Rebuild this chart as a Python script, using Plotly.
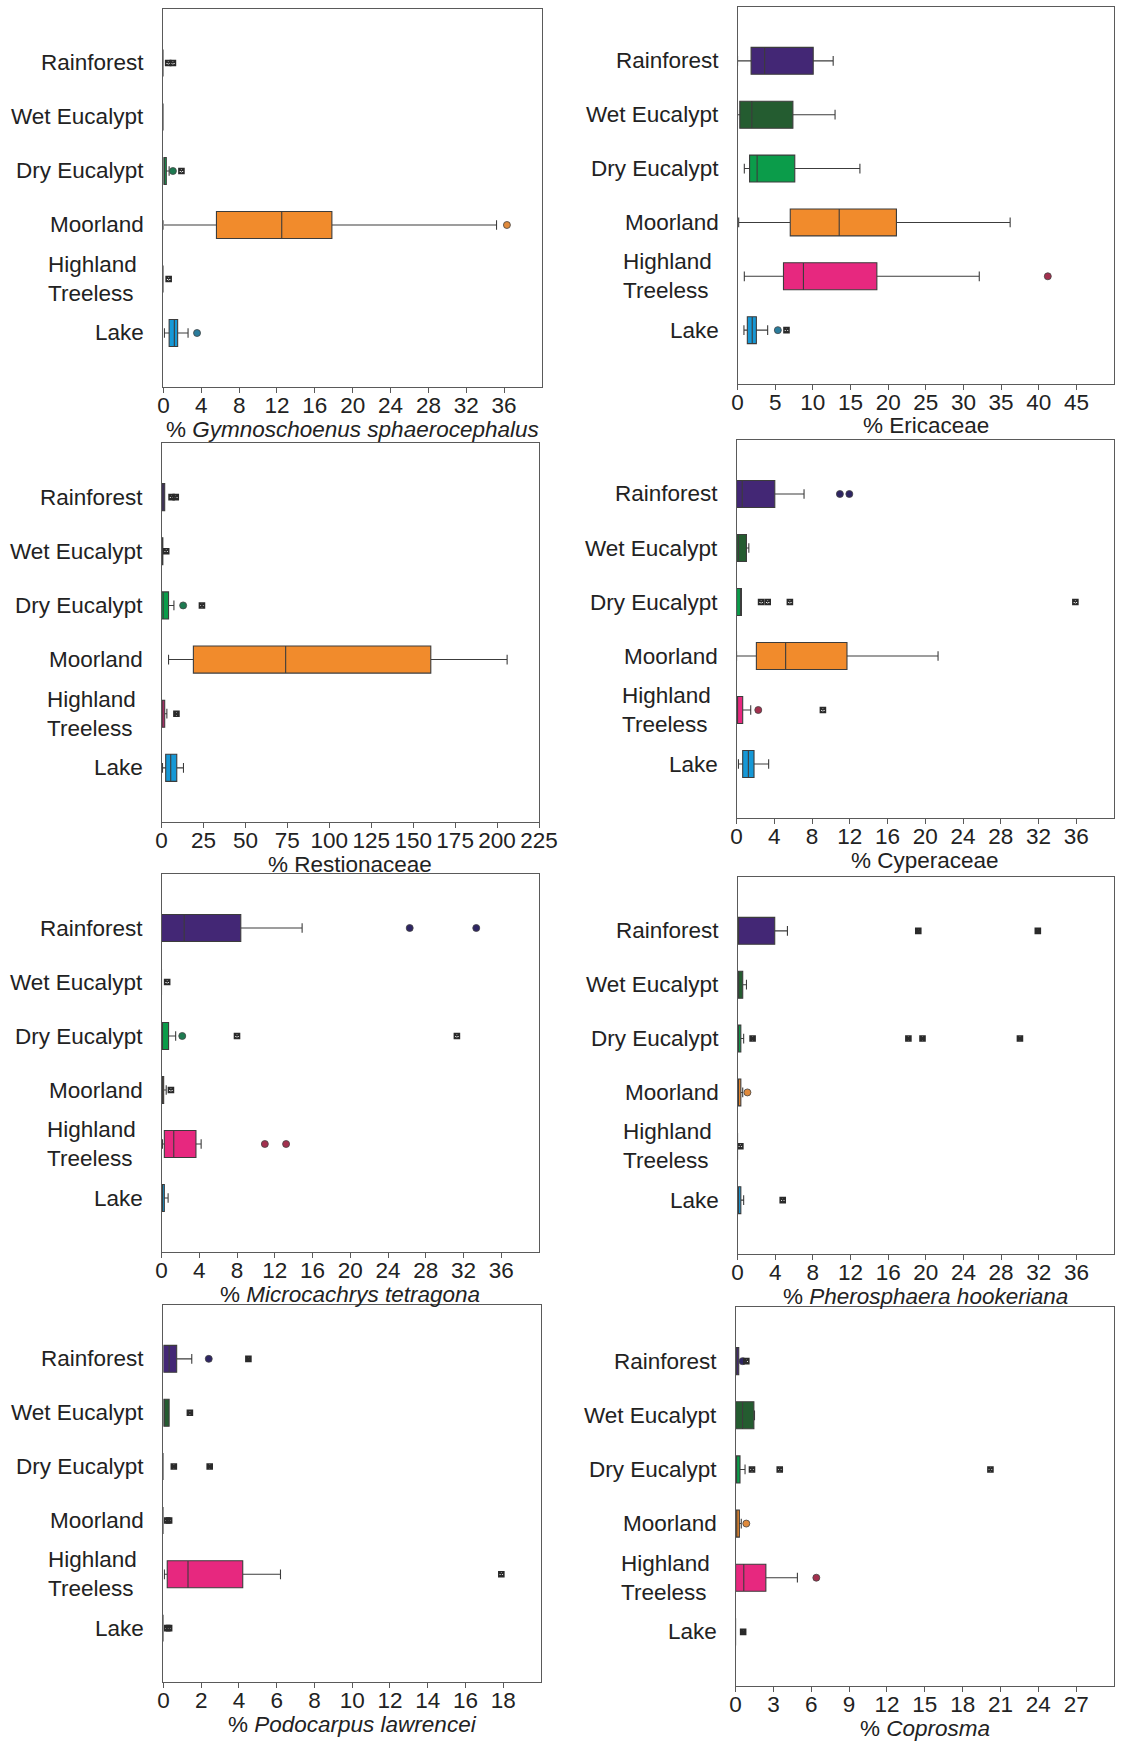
import plotly.graph_objects as go

# Habitat categories (top to bottom) and their display labels
HABITATS = ["Rainforest", "Wet Eucalypt", "Dry Eucalypt", "Moorland", "Highland Treeless", "Lake"]
HABITAT_LABELS = ["Rainforest", "Wet Eucalypt", "Dry Eucalypt", "Moorland", "Highland<br>Treeless", "Lake"]
BOX_COLORS = ["#432775", "#245c30", "#0b9c4a", "#f18b2c", "#e7287f", "#1698d6"]
OUTLIER_COLORS = ["#2e2563", "#1f5a33", "#1c7a50", "#e08a3c", "#a3304e", "#2a7c9c"]

# Box statistics per habitat: [lower whisker, Q1, median, Q3, upper whisker]
GYMNO_STATS = [[0, 0, 0, 0, 0], [0, 0, 0, 0, 0], [0, 0, 0, 0.3, 0.6],
               [0, 5.6, 12.5, 17.8, 35.2], [0, 0, 0, 0, 0], [0.1, 0.6, 1.15, 1.5, 2.6]]
GYMNO_OUTLIERS = [[], [], [1.0], [36.3], [], [3.55]]
GYMNO_EXTREMES = [[0.5, 1.0], [], [1.9], [], [0.55], []]

ERICA_STATS = [[0, 1.8, 3.6, 10.05, 12.7], [0, 0.3, 1.9, 7.35, 12.95], [0.9, 1.6, 2.6, 7.6, 16.25],
               [0.15, 7.0, 13.5, 21.1, 36.2], [0.9, 6.1, 8.75, 18.5, 32.1], [0.85, 1.3, 1.95, 2.5, 4.0]]
ERICA_OUTLIERS = [[], [], [], [], [41.2], [5.35]]
ERICA_EXTREMES = [[], [], [], [], [], [6.5]]

RESTIO_STATS = [[0, 0, 0.9, 1.9, 1.9], [0, 0, 0.3, 0.8, 0.8], [0, 0, 1.0, 4.2, 7.4],
                [4.2, 19.0, 74.0, 160.5, 206.0], [0, 0, 0.8, 1.9, 3.2], [0.6, 2.5, 5.5, 9.1, 13.1]]
RESTIO_OUTLIERS = [[], [], [12.9], [], [], []]
RESTIO_EXTREMES = [[6.0, 8.5], [2.8], [24.1], [], [8.9], []]

CYPER_STATS = [[0, 0, 0.6, 4.05, 7.15], [0, 0, 0.2, 1.05, 1.3], [0, 0, 0.45, 0.52, 0.52],
               [0, 2.1, 5.2, 11.7, 21.35], [0, 0, 0.1, 0.65, 1.5], [0.2, 0.65, 1.25, 1.85, 3.4]]
CYPER_OUTLIERS = [[10.95, 11.95], [], [], [], [2.3], []]
CYPER_EXTREMES = [[], [], [2.6, 3.3, 5.65, 35.9], [], [9.15], []]

MICRO_STATS = [[0, 0, 2.4, 8.4, 14.9], [0, 0, 0, 0, 0], [0, 0, 0.1, 0.75, 1.5],
               [0, 0, 0.05, 0.23, 0.5], [0.1, 0.3, 1.3, 3.65, 4.2], [0, 0, 0.05, 0.3, 0.7]]
MICRO_OUTLIERS = [[26.3, 33.35], [], [2.2], [], [10.95, 13.2], []]
MICRO_EXTREMES = [[], [0.6], [8.0, 31.3], [1.0], [], []]

PHERO_STATS = [[0, 0, 0, 3.95, 5.3], [0, 0, 0.1, 0.55, 0.95], [0, 0, 0.05, 0.35, 0.65],
               [0, 0, 0.1, 0.35, 0.55], [0, 0, 0, 0, 0], [0, 0, 0.05, 0.35, 0.65]]
PHERO_OUTLIERS = [[], [], [], [1.05], [], []]
PHERO_EXTREMES = [[19.2, 31.9], [], [1.6, 18.15, 19.65, 30.0], [], [0.3], [4.8]]

PODO_STATS = [[0, 0, 0.3, 0.7, 1.5], [0, 0, 0.05, 0.3, 0.3], [0, 0, 0, 0, 0],
              [0, 0, 0, 0, 0], [0.05, 0.2, 1.3, 4.2, 6.2], [0, 0, 0, 0, 0]]
PODO_OUTLIERS = [[2.4], [], [], [], [], []]
PODO_EXTREMES = [[4.5], [1.4], [0.55, 2.45], [0.2, 0.3], [17.9], [0.2, 0.3]]

COPRO_STATS = [[0, 0, 0.05, 0.25, 0.25], [0, 0, 0.55, 1.45, 1.5], [0, 0, 0.05, 0.35, 0.75],
               [0, 0, 0.1, 0.3, 0.45], [0, 0, 0.65, 2.4, 4.9], [0, 0, 0, 0, 0]]
COPRO_OUTLIERS = [[0.55], [], [], [0.85], [6.4], []]
COPRO_EXTREMES = [[0.85], [], [1.3, 3.5, 20.2], [], [], [0.6]]

# Axis titles, x ranges and tick values
TITLES = ["% <i>Gymnoschoenus sphaerocephalus</i>", "% Ericaceae", "% Restionaceae", "% Cyperaceae",
          "% <i>Microcachrys tetragona</i>", "% <i>Pherosphaera hookeriana</i>",
          "% <i>Podocarpus lawrencei</i>", "% <i>Coprosma</i>"]
X_MAX = [40, 50, 225, 40, 40, 40, 20, 30]
TICKS_4 = [0, 4, 8, 12, 16, 20, 24, 28, 32, 36]
TICKS_5 = [0, 5, 10, 15, 20, 25, 30, 35, 40, 45]
TICKS_25 = [0, 25, 50, 75, 100, 125, 150, 175, 200, 225]
TICKS_2 = [0, 2, 4, 6, 8, 10, 12, 14, 16, 18]
TICKS_3 = [0, 3, 6, 9, 12, 15, 18, 21, 24, 27]
X_TICKS = [TICKS_4, TICKS_5, TICKS_25, TICKS_4, TICKS_4, TICKS_4, TICKS_2, TICKS_3]

# Panel frames in pixels: left, right, top, bottom
FRAMES = [(161, 548, 9, 387), (748, 1133, 7, 384),
          (159, 545, 443, 822), (747, 1133, 440, 818),
          (159, 545, 874, 1252), (748, 1133, 877, 1254),
          (161, 547, 1305, 1682), (746, 1133, 1307, 1686)]

W, H = 1136, 1742
FONT = "Liberation Sans, Arial, sans-serif"
FS = 22.5
TEXT = "#222222"
FRAME_COLOR = "#5a5a5a"

panels = [
    (GYMNO_STATS, GYMNO_OUTLIERS, GYMNO_EXTREMES),
    (ERICA_STATS, ERICA_OUTLIERS, ERICA_EXTREMES),
    (RESTIO_STATS, RESTIO_OUTLIERS, RESTIO_EXTREMES),
    (CYPER_STATS, CYPER_OUTLIERS, CYPER_EXTREMES),
    (MICRO_STATS, MICRO_OUTLIERS, MICRO_EXTREMES),
    (PHERO_STATS, PHERO_OUTLIERS, PHERO_EXTREMES),
    (PODO_STATS, PODO_OUTLIERS, PODO_EXTREMES),
    (COPRO_STATS, COPRO_OUTLIERS, COPRO_EXTREMES),
]

fig = go.Figure()
layout = dict(
    width=W, height=H, margin=dict(l=0, r=0, t=0, b=0),
    paper_bgcolor="white", plot_bgcolor="white",
    boxmode="overlay", showlegend=False,
    font=dict(family=FONT, size=FS, color=TEXT),
)
annotations = []

for p, (stats, outliers, extremes) in enumerate(panels):
    n = p + 1
    xa = "x" if n == 1 else f"x{n}"
    ya = "y" if n == 1 else f"y{n}"
    L, R, T, B = FRAMES[p]

    # one box per habitat so each gets its own fill colour
    for h, hab in enumerate(HABITATS):
        lo, q1, med, q3, hi = stats[h]
        fig.add_trace(go.Box(
            orientation="h", y=[hab],
            lowerfence=[lo], q1=[q1], median=[med], q3=[q3], upperfence=[hi],
            width=0.5, whiskerwidth=0.36, boxpoints=False,
            fillcolor=BOX_COLORS[h], line=dict(color="#3c3c3c", width=1.1),
            xaxis=xa, yaxis=ya, hoverinfo="skip",
        ))

    # outliers (circles) and extreme values (asterisks)
    ox, oy, oc = [], [], []
    ex, ey = [], []
    for h, hab in enumerate(HABITATS):
        for v in outliers[h]:
            ox.append(v); oy.append(hab); oc.append(OUTLIER_COLORS[h])
        for v in extremes[h]:
            ex.append(v); ey.append(hab)
    if ox:
        fig.add_trace(go.Scatter(
            x=ox, y=oy, mode="markers", xaxis=xa, yaxis=ya, hoverinfo="skip",
            marker=dict(symbol="circle", size=7, color=oc, line=dict(color="#444444", width=0.8)),
        ))
    if ex:
        fig.add_trace(go.Scatter(
            x=ex, y=ey, mode="markers", xaxis=xa, yaxis=ya, hoverinfo="skip",
            marker=dict(symbol="square-x-open", size=5, color="#2a2a2a", line=dict(width=1.6)),
        ))

    xkey = "xaxis" if n == 1 else f"xaxis{n}"
    ykey = "yaxis" if n == 1 else f"yaxis{n}"
    layout[xkey] = dict(
        domain=[L / W, R / W], anchor=ya, range=[0, X_MAX[p]],
        tickmode="array", tickvals=X_TICKS[p], ticktext=[str(t) for t in X_TICKS[p]],
        ticks="outside", ticklen=5, tickcolor=FRAME_COLOR, tickwidth=1,
        ticklabelstandoff=-7,
        showline=True, mirror=True, linecolor=FRAME_COLOR, linewidth=1.3,
        showgrid=False, zeroline=False, fixedrange=True,
        tickfont=dict(family=FONT, size=FS, color=TEXT),
    )
    layout[ykey] = dict(
        domain=[1 - B / H, 1 - T / H], anchor=xa,
        type="category", categoryorder="array", categoryarray=HABITATS,
        range=[6, -1], showticklabels=False, ticks="",
        showline=True, mirror=True, linecolor=FRAME_COLOR, linewidth=1.3,
        showgrid=False, zeroline=False, fixedrange=True,
    )

    # habitat labels on the left of each panel
    for h, hab in enumerate(HABITATS):
        annotations.append(dict(
            text=HABITAT_LABELS[h], xref=f"{xa} domain", yref=ya,
            x=0, y=hab, xanchor="right", yanchor="middle", align="left",
            xshift=-24 if "<br>" in HABITAT_LABELS[h] else -17, showarrow=False,
            font=dict(family=FONT, size=FS, color=TEXT),
        ))

    # axis title under the tick labels
    annotations.append(dict(
        text=TITLES[p], xref=f"{xa} domain", yref=f"{ya} domain",
        x=0.5, y=0, xanchor="center", yanchor="middle", yshift=-42,
        showarrow=False, font=dict(family=FONT, size=FS, color=TEXT),
    ))

layout["annotations"] = annotations
fig.update_layout(**layout)
fig.write_html("out.html")
